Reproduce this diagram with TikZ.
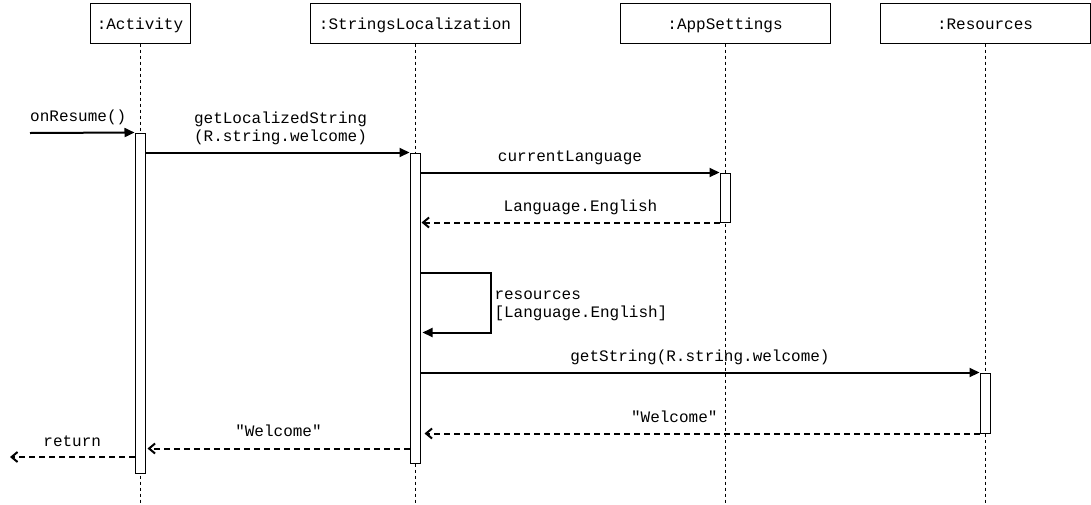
\documentclass[tikz,border=0pt]{standalone}
\usepackage{fontspec}
\setmonofont{Liberation Mono}
\usetikzlibrary{arrows.meta,positioning}
\begin{document}
\begin{tikzpicture}[x=1pt,y=-1pt,
  font=\ttfamily\fontsize{16}{18}\selectfont,
  obj/.style={draw,line width=1pt,minimum width=210,minimum height=40,inner sep=0,
    text height=13pt,text depth=0pt},
  bar/.style={draw,fill=white,line width=1pt,minimum width=10,inner sep=0},
  life/.style={line width=0.9pt,dash pattern=on 3pt off 3pt},
  call/.style={line width=2pt,-{Triangle[length=10pt,width=9pt]}},
  reply/.style={line width=2pt,dash pattern=on 6pt off 4pt,-{Straight Barb[length=6pt,width=10pt]}},
  lbl/.style={midway,anchor=base,yshift=11pt,inner sep=0}]

\useasboundingbox (0,0) rectangle (1091,504);

\node[obj,minimum width=100] (1) at (140,23) {:Activity};
\node[obj] (2) at (415,23) {:StringsLocalization};
\node[obj] (3) at (725,23) {:AppSettings};
\node[obj] (4) at (985,23) {:Resources};

\coordinate (bottom) at (0,504);
\foreach \n in {1,...,4}
  \draw[life] (\n.south) -- (\n.south |- bottom);

\node[bar,minimum height=340] (1a) at (140,303) {};
\node[bar,minimum height=310] (2a) at (415,308) {};
\node[bar,minimum height=49] (3a) at (725,197.5) {};
\node[bar,minimum height=60] (4a) at (985,403) {};

\coordinate (in) at (30,133);
\coordinate (out) at (10,457);

\draw[call] (in) -- (1a.north west) node[lbl,xshift=-4pt] {onResume()};
\draw[call] ([yshift=-20pt]1a.north east) -- (2a.north west)
  node[lbl,align=center,xshift=3pt] {getLocalizedString\\(R.string.welcome)};
\draw[call] ([yshift=-20pt]2a.north east) -- (3a.north west) node[lbl] {currentLanguage};
\draw[reply] (3a.south west) -- ([xshift=1pt]2a.east |- 3a.south) node[lbl,xshift=10pt] {Language.English};

\draw[call] ([yshift=-120pt]2a.north east) -- ++(70,0) -- ++(0,60)
  node[midway,right,align=left,inner sep=3pt,yshift=-3pt] {resources\\{[Language.English]}}
  -- ([yshift=-180pt,xshift=2pt]2a.north east);

\draw[call] ([yshift=-220pt]2a.north east) -- (4a.north west) node[lbl] {getString(R.string.welcome)};
\draw[reply] (4a.south west) -- ([xshift=4pt]2a.east |- 4a.south) node[lbl,pos=0.55] {"Welcome"};
\draw[reply] ([yshift=15pt]2a.south west) -- ([yshift=15pt,xshift=2pt]1a.east |- 2a.south)
  node[lbl,yshift=1pt] {"Welcome"};
\draw[reply] (1a.west |- out) -- (out) node[lbl] {return};

\end{tikzpicture}
\end{document}
